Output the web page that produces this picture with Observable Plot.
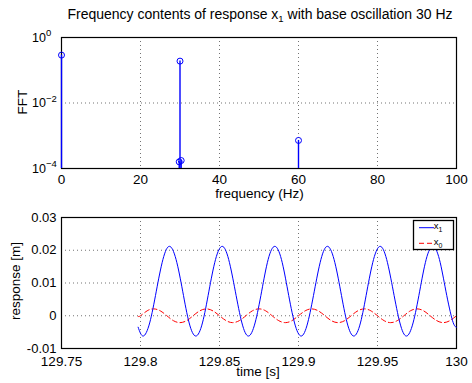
<!DOCTYPE html>
<html><head><meta charset="utf-8">
<script src="https://cdn.jsdelivr.net/npm/d3@7"></script>
<script src="https://cdn.jsdelivr.net/npm/@observablehq/plot@0.6"></script>
<style>
body{margin:0;background:#fff;font-family:"Liberation Sans",Arial,sans-serif;}
#wrap{position:relative;width:472px;height:383px;}
svg{display:block;overflow:visible}
</style></head><body><div id="wrap"></div>
<script>
// ---------- top panel: FFT stems ----------
const fftFreq = [0, 29.8, 30, 30.3, 60];
const fftMag  = [0.29, 1.6e-4, 0.19, 1.75e-4, 7.2e-4];
const fftTicks = [1e-4, 1e-2, 1];
const fftTickExp = ["\u22124", "\u22122", "0"];
const freqTicks = [0, 20, 40, 60, 80, 100];

// ---------- bottom panel: time response ----------
const tX1 = [129.7985,
  129.8017,129.8058,129.8100,129.8142,129.8183,129.8225,129.8267,129.8308,
  129.8350,129.8392,129.8433,129.8475,129.8517,129.8558,129.8600,129.8642,
  129.8683,129.8725,129.8767,129.8808,129.8850,129.8892,129.8933,129.8975,
  129.9017,129.9058,129.9100,129.9142,129.9183,129.9225,129.9267,129.9308,
  129.9350,129.9392,129.9433,129.9475,129.9517,129.9558,129.9600,129.9642,
  129.9683,129.9725,129.9767,129.9808,129.9850,129.9892,129.9933,129.9975,130.0];
const vX1 = [-0.0035,
  -0.0062,-0.0022,0.0075,0.0172,0.0212,0.0172,0.0075,-0.0022,
  -0.0062,-0.0022,0.0075,0.0172,0.0212,0.0172,0.0075,-0.0022,
  -0.0062,-0.0022,0.0075,0.0172,0.0212,0.0172,0.0075,-0.0022,
  -0.0062,-0.0022,0.0075,0.0172,0.0212,0.0172,0.0075,-0.0022,
  -0.0062,-0.0022,0.0075,0.0172,0.0212,0.0172,0.0075,-0.0022,
  -0.0062,-0.0022,0.0075,0.0172,0.0212,0.0172,0.0075,-0.0015,-0.0035];
const tX0 = [129.7985,
  129.8000,129.8042,129.8083,129.8125,129.8167,129.8208,129.8250,129.8292,
  129.8333,129.8375,129.8417,129.8458,129.8500,129.8542,129.8583,129.8625,
  129.8667,129.8708,129.8750,129.8792,129.8833,129.8875,129.8917,129.8958,
  129.9000,129.9042,129.9083,129.9125,129.9167,129.9208,129.9250,129.9292,
  129.9333,129.9375,129.9417,129.9458,129.9500,129.9542,129.9583,129.9625,
  129.9667,129.9708,129.9750,129.9792,129.9833,129.9875,129.9917,129.9958,130.0];
const vX0 = [-0.0002,
  0,0.0015,0.0021,0.0015,0,-0.0015,-0.0021,-0.0015,
  0,0.0015,0.0021,0.0015,0,-0.0015,-0.0021,-0.0015,
  0,0.0015,0.0021,0.0015,0,-0.0015,-0.0021,-0.0015,
  0,0.0015,0.0021,0.0015,0,-0.0015,-0.0021,-0.0015,
  0,0.0015,0.0021,0.0015,0,-0.0015,-0.0021,-0.0015,
  0,0.0015,0.0021,0.0015,0,-0.0015,-0.0021,-0.0015,0];
const timeTicks = [129.75, 129.8, 129.85, 129.9, 129.95, 130];
const timeTickLabels = ["129.75", "129.8", "129.85", "129.9", "129.95", "130"];
const respTicks = [-0.01, 0, 0.01, 0.02, 0.03];
const respTickLabels = ["-0.01", "0", "0.01", "0.02", "0.03"];
const seriesNames = ["x", "x"];
const seriesSubs = ["1", "0"];

const FONT = "Liberation Sans, Arial, sans-serif";
const grid = {stroke: "#000", strokeOpacity: 0.55, strokeDasharray: "1,3"};

// ---------- top chart ----------
const fftIdx = fftFreq.map((_, i) => i);
const topChart = Plot.plot({
  width: 472, height: 200,
  marginLeft: 61, marginRight: 16, marginTop: 37, marginBottom: 32,
  style: {fontFamily: FONT, fontSize: "13px", color: "#000", background: "transparent"},
  x: {domain: [0, 100], ticks: freqTicks, label: null},
  y: {type: "log", domain: [1e-4, 1], ticks: fftTicks, label: null, axis: null},
  marks: [
    Plot.gridX(freqTicks, grid),
    Plot.gridY(fftTicks, grid),
    Plot.frame({stroke: "#000", strokeWidth: 1.2}),
    Plot.axisX({ticks: freqTicks, tickSize: 0, tickPadding: 6, label: null, fontSize: 13.5}),
    Plot.text(fftTicks, {y: d => d, text: () => "10", frameAnchor: "left", dx: -29.5,
      textAnchor: "start", lineAnchor: "middle", fontSize: 12.5}),
    Plot.ruleX(fftIdx, {x: i => fftFreq[i], y1: fftTicks[0], y2: i => fftMag[i], stroke: "#00f", strokeWidth: 1.4}),
    Plot.dot(fftIdx, {x: i => fftFreq[i], y: i => fftMag[i], r: 3, stroke: "#00f", fill: "none", strokeWidth: 1})
  ]
});

// ---------- bottom chart ----------
const x1Idx = tX1.map((_, i) => i);
const x0Idx = tX0.map((_, i) => i);
const bottomChart = Plot.plot({
  width: 472, height: 183,
  marginLeft: 61, marginRight: 16, marginTop: 17, marginBottom: 35,
  style: {fontFamily: FONT, fontSize: "13px", color: "#000", background: "transparent"},
  x: {domain: [129.75, 130], label: null},
  y: {domain: [-0.01, 0.03], label: null},
  marks: [
    Plot.gridX(timeTicks, grid),
    Plot.gridY(respTicks, grid),
    Plot.frame({stroke: "#000", strokeWidth: 1.2}),
    Plot.axisX({ticks: timeTicks, tickFormat: d => timeTickLabels[timeTicks.indexOf(d)], tickSize: 0, tickPadding: 8, label: null, fontSize: 13.5}),
    Plot.axisY({ticks: respTicks, tickFormat: d => respTickLabels[respTicks.indexOf(d)], tickSize: 0, tickPadding: 5, label: null, fontSize: 13}),
    Plot.line(x0Idx, {x: i => tX0[i], y: i => vX0[i], stroke: "#f00", strokeWidth: 1, strokeDasharray: "5,3", curve: "natural"}),
    Plot.line(x1Idx, {x: i => tX1[i], y: i => vX1[i], stroke: "#00f", strokeWidth: 1, curve: "natural"})
  ]
});

const wrap = document.getElementById("wrap");
wrap.appendChild(topChart);
wrap.appendChild(bottomChart);

// superscripts on log tick labels (text elements are in the same order as fftTicks)
const logLabels = Array.from(topChart.querySelectorAll("text")).filter(t => t.textContent === "10");
logLabels.forEach((el, i) => {
  d3.select(el).append("tspan").attr("dy", "-0.55em").attr("font-size", "9.5px").text(fftTickExp[i]);
});

// title & axis labels
const ts = d3.select(topChart);
const title = ts.append("text").attr("x", 260).attr("y", 18.5).attr("text-anchor", "middle")
  .attr("font-family", FONT).attr("font-size", "14px").attr("fill", "#000");
title.append("tspan").text("Frequency contents of response x");
title.append("tspan").attr("dy", "3.5").attr("font-size", "9.5px").text("1");
title.append("tspan").attr("dy", "-3.5").text(" with base oscillation 30 Hz");
ts.append("text").attr("x", 259.5).attr("y", 198).attr("text-anchor", "middle")
  .attr("font-family", FONT).attr("font-size", "13.5px").text("frequency (Hz)");
ts.append("text").attr("transform", "translate(27,102) rotate(-90)").attr("text-anchor", "middle")
  .attr("font-family", FONT).attr("font-size", "13.5px").text("FFT");

const bs = d3.select(bottomChart);
bs.append("text").attr("x", 258).attr("y", 176).attr("text-anchor", "middle")
  .attr("font-family", FONT).attr("font-size", "13.5px").text("time [s]");
bs.append("text").attr("transform", "translate(19.5,81) rotate(-90)").attr("text-anchor", "middle")
  .attr("font-family", FONT).attr("font-size", "13.5px").text("response [m]");

// legend
const lg = bs.append("g").attr("font-family", FONT);
lg.append("rect").attr("x", 413.5).attr("y", 20.5).attr("width", 40).attr("height", 29)
  .attr("fill", "#fff").attr("stroke", "#000").attr("stroke-width", 1.3);
const legendStyles = [{stroke: "#00f", dash: null}, {stroke: "#f00", dash: "5,3"}];
seriesNames.forEach((n, i) => {
  const y = 27.7 + i * 15.6;
  lg.append("line").attr("x1", 419).attr("x2", 434).attr("y1", y).attr("y2", y)
    .attr("stroke", legendStyles[i].stroke).attr("stroke-dasharray", legendStyles[i].dash);
  const t = lg.append("text").attr("x", 438).attr("y", y + 1.5).attr("font-size", "9.5px");
  t.append("tspan").text(n);
  t.append("tspan").attr("dy", 3).attr("font-size", "7px").text(seriesSubs[i]);
});
</script></body></html>
